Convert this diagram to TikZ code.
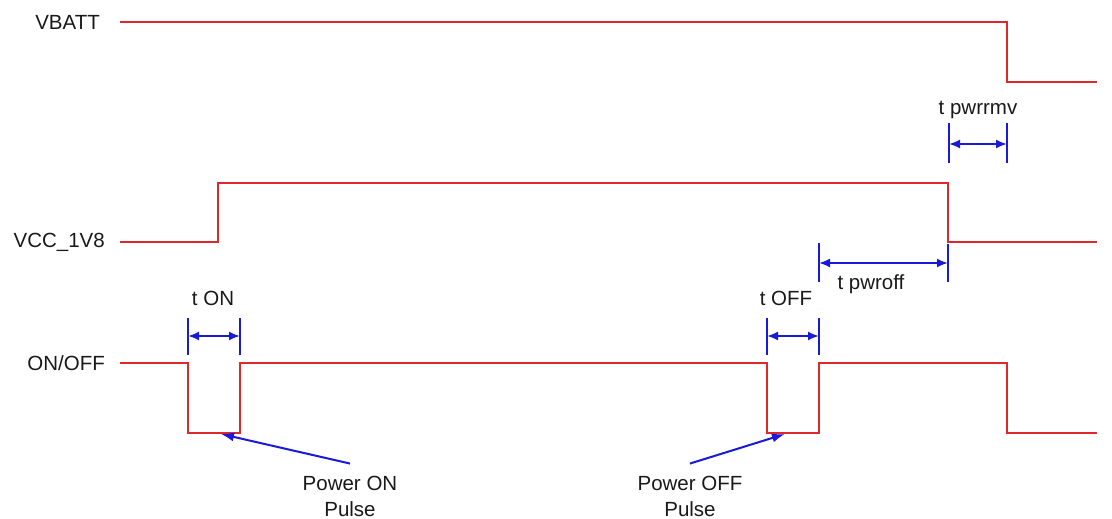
\documentclass[tikz,border=0pt]{standalone}
\usepackage{fontspec}
\setmainfont{Liberation Sans}
\usetikzlibrary{arrows.meta}
\definecolor{sig}{RGB}{222,40,45}
\definecolor{dim}{RGB}{25,25,215}
\begin{document}
\begin{tikzpicture}[x=1pt,y=-1pt,
  signal/.style={draw=sig,line width=2.2pt,line join=miter},
  tick/.style={draw=dim,line width=2pt},
  dimarrow/.style={draw=dim,line width=2pt,{Latex[length=11pt,width=9pt]}-{Latex[length=11pt,width=9pt]}},
  callout/.style={draw=dim,line width=2pt,-{Latex[length=13pt,width=9pt]}},
  lbl/.style={font=\fontsize{20.5}{24}\selectfont,inner sep=0pt,text=black!90}]
\useasboundingbox (0,0) rectangle (1112,519);
% signal labels
\node[lbl,anchor=east] (vbatt) at (100,22) {VBATT};
\node[lbl,anchor=east] (vcc) at (105,242) {VCC\_1V8};
\node[lbl,anchor=east] (onoff) at (105,363) {ON/OFF};
% VBATT
\draw[signal] (120,22) -- (1007,22) -- (1007,82) -- (1097,82);
% VCC_1V8
\draw[signal] (120,242) -- (218,242) -- (218,183) -- (948,183) -- (948,242) -- (1097,242);
% ON/OFF
\draw[signal] (120,363) -- (188,363) -- (188,433) -- (240,433) -- (240,363)
  -- (767,363) -- (767,433) -- (819,433) -- (819,363) -- (1007,363) -- (1007,433) -- (1097,433);
% t ON
\coordinate (a1) at (188,336); \coordinate (a2) at (240,336);
\draw[tick] (188,318) -- (188,355); \draw[tick] (240,318) -- (240,355);
\draw[dimarrow] (a1) -- (a2);
\node[lbl] (ton) at (213,298) {t ON};
% t OFF
\coordinate (b1) at (767,336); \coordinate (b2) at (819,336);
\draw[tick] (767,318) -- (767,355); \draw[tick] (819,318) -- (819,355);
\draw[dimarrow] (b1) -- (b2);
\node[lbl] (toff) at (786,298) {t OFF};
% t pwroff
\coordinate (c1) at (819,263); \coordinate (c2) at (948,263);
\draw[tick] (819,243) -- (819,282); \draw[tick] (948,244) -- (948,282);
\draw[dimarrow] (c1) -- (c2);
\node[lbl] (tpwroff) at (871,284) {t pwroff};
% t pwrrmv
\coordinate (d1) at (949,144); \coordinate (d2) at (1007,144);
\draw[tick] (949,123) -- (949,163); \draw[tick] (1007,123) -- (1007,163);
\draw[dimarrow] (d1) -- (d2);
\node[lbl] (tpwrrmv) at (978,110) {t pwrrmv};
% callouts
\node[lbl,align=center] (pon) at (350,496) {Power ON\\[2pt]Pulse};
\node[lbl,align=center] (poff) at (690,496) {Power OFF\\[2pt]Pulse};
\coordinate (ponEnd) at (221,434);
\coordinate (poffEnd) at (785,434);
\draw[callout] (pon.north) ++(0,-12) coordinate (ps) (ps) -- (ponEnd);
\draw[callout] (poff.north) ++(0,-12) coordinate (qs) (qs) -- (poffEnd);
\end{tikzpicture}
\end{document}
